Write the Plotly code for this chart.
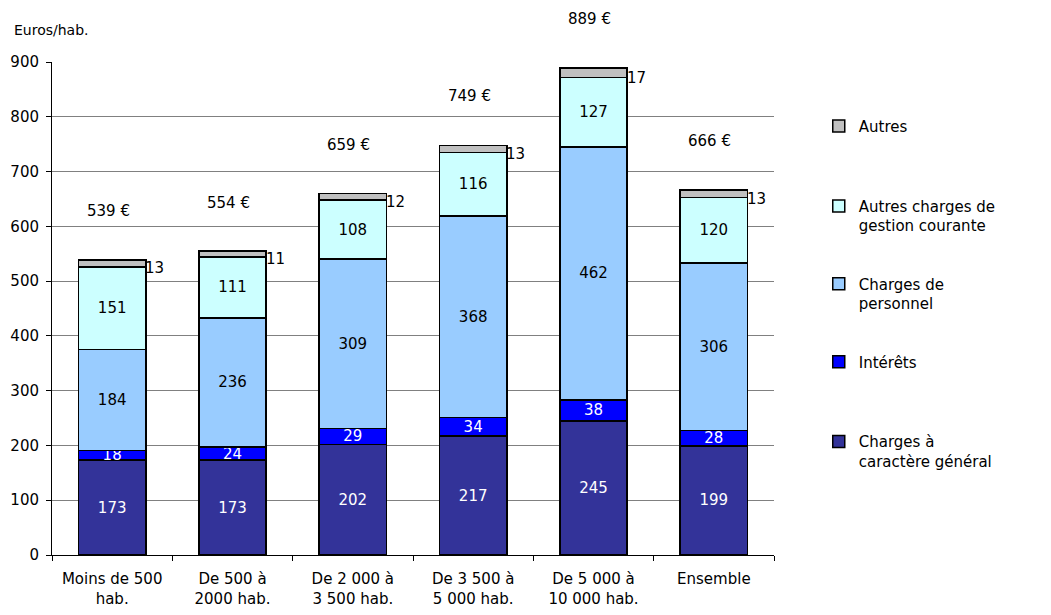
import plotly.graph_objects as go

# Expenses per inhabitant by municipality size (euros per inhabitant)
categories = [
    "Moins de 500<br>hab.",
    "De 500 à<br>2000 hab.",
    "De 2 000 à<br>3 500 hab.",
    "De 3 500 à<br>5 000 hab.",
    "De 5 000 à<br>10 000 hab.",
    "Ensemble",
]
charges_generales = [173, 173, 202, 217, 245, 199]
interets = [18, 24, 29, 34, 38, 28]
charges_personnel = [184, 236, 309, 368, 462, 306]
autres_charges_gestion = [151, 111, 108, 116, 127, 120]
autres = [13, 11, 12, 13, 17, 13]
totals = [539, 554, 659, 749, 889, 666]

FONT = "DejaVu Sans"
FS = 15

series = [
    ("Charges à<br>caractère général", charges_generales, "#333399", "white"),
    ("Intérêts", interets, "#0000FF", "white"),
    ("Charges de<br>personnel", charges_personnel, "#99CCFF", "black"),
    ("Autres charges de<br>gestion courante", autres_charges_gestion, "#CCFFFF", "black"),
    ("Autres", autres, "#C0C0C0", "black"),
]

# each series has its own legend box, stacked down the right side
legend_tops = [0.263, 0.425, 0.583, 0.741, 0.903]
legend_names = ["legend5", "legend4", "legend3", "legend2", "legend"]

fig = go.Figure()
for (name, vals, color, tcolor), lg in zip(series, legend_names):
    is_top = name == "Autres"
    fig.add_trace(go.Bar(
        x=categories,
        y=vals,
        name=name,
        legend=lg,
        marker=dict(color=color, line=dict(color="black", width=1.5)),
        text=None if is_top else [str(v) for v in vals],
        textposition="none" if is_top else "inside",
        insidetextanchor="middle",
        textangle=0,
        textfont=dict(family=FONT, size=FS, color=tcolor),
        hoverinfo="skip",
    ))

# small "Autres" values beside the top segment
cum_below = [a + b + c + d for a, b, c, d in zip(charges_generales, interets,
                                                  charges_personnel, autres_charges_gestion)]
for cat, base, v in zip(categories, cum_below, autres):
    fig.add_annotation(x=cat, y=base + v / 2, text=str(v), showarrow=False,
                       xanchor="left", yanchor="middle", xshift=31, yshift=-5,
                       font=dict(family=FONT, size=FS, color="black"))

# totals above each bar
for cat, t in zip(categories, totals):
    fig.add_annotation(x=cat, y=t, text=f"{t} €", showarrow=False,
                       xanchor="center", yanchor="middle", yshift=49, xshift=-4,
                       font=dict(family=FONT, size=FS, color="black"))

fig.add_annotation(xref="paper", yref="paper", x=-0.056, y=1.065, text="Euros/hab.",
                   showarrow=False, xanchor="left", yanchor="middle",
                   font=dict(family=FONT, size=14, color="black"))

legend_style = dict(x=1.062, xanchor="left", yanchor="top", valign="top",
                    itemwidth=30, font=dict(family=FONT, size=FS, color="black"),
                    bgcolor="rgba(0,0,0,0)")
layout_legends = {}
for lg, top in zip(legend_names, legend_tops):
    layout_legends[lg] = dict(y=top, **legend_style)

fig.update_layout(
    width=1051,
    height=615,
    margin=dict(l=52, r=277, t=62, b=60, autoexpand=False),
    paper_bgcolor="white",
    plot_bgcolor="white",
    barmode="stack",
    bargap=0.44,
    showlegend=True,
    uniformtext=dict(minsize=FS, mode="show"),
    font=dict(family=FONT, size=FS, color="black"),
    **layout_legends,
)

fig.update_xaxes(
    type="category",
    automargin=False,
    showline=True, linecolor="black", linewidth=1,
    ticks="outside", tickson="boundaries", ticklen=5, tickcolor="black",
    ticklabelstandoff=10,
    tickfont=dict(family=FONT, size=FS, color="black"),
    showgrid=False,
)
fig.update_yaxes(
    range=[0, 900], dtick=100,
    automargin=False,
    showline=True, linecolor="black", linewidth=1,
    ticks="outside", ticklen=5, tickcolor="black",
    ticklabelstandoff=4,
    showgrid=True, gridcolor="#808080", gridwidth=1,
    tickfont=dict(family=FONT, size=FS, color="black"),
    zeroline=False,
)

fig.write_html("out.html")
